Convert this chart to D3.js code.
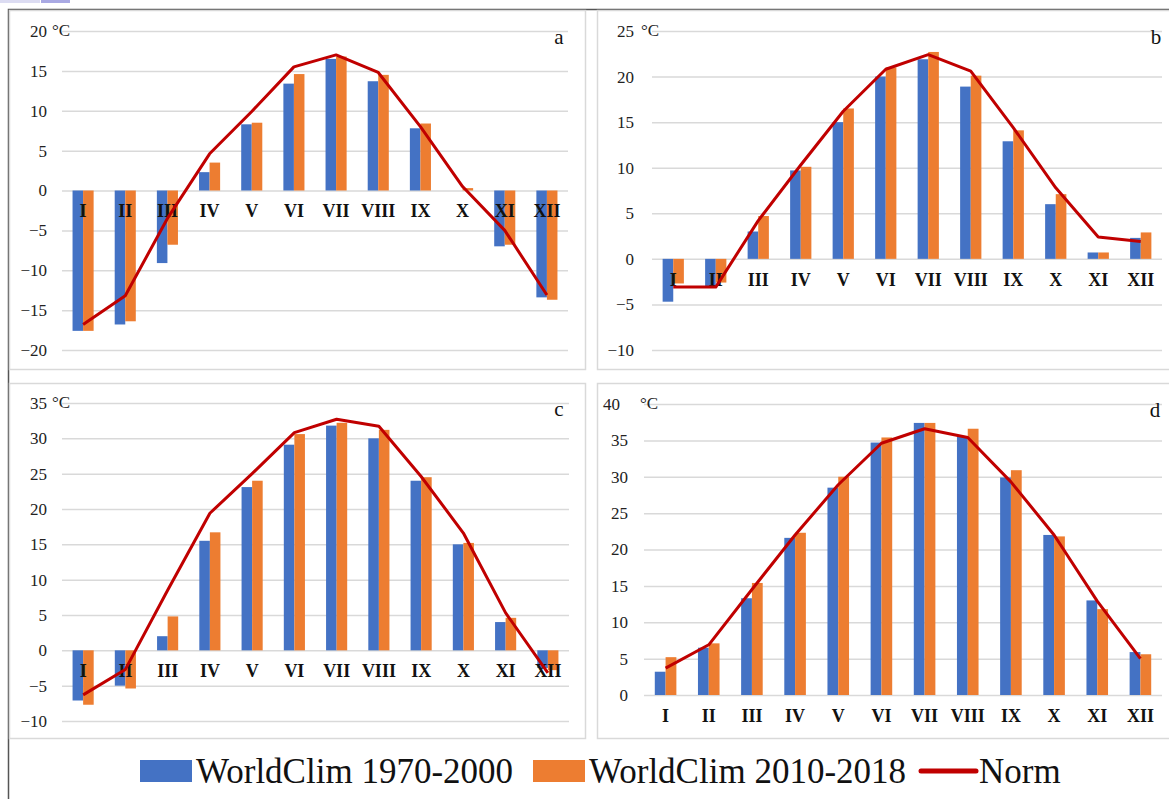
<!DOCTYPE html>
<html>
<head>
<meta charset="utf-8">
<script src="https://cdn.jsdelivr.net/npm/d3@7"></script>
<style>
  body { margin: 0; background: #fff; }
  svg { display: block; }
  text { font-family: "Liberation Serif", "DejaVu Serif", serif; }
</style>
</head>
<body>
<svg id="chart" width="1169" height="799"></svg>
<script>
const months = ['I', 'II', 'III', 'IV', 'V', 'VI', 'VII', 'VIII', 'IX', 'X', 'XI', 'XII'];
const seriesNames = ['WorldClim 1970-2000', 'WorldClim 2010-2018', 'Norm'];

// panel a
const aOld = [-17.6, -16.8, -9.1, 2.3, 8.3, 13.4, 16.5, 13.7, 7.8, 0.0, -7.0, -13.4];
const aNew = [-17.6, -16.4, -6.8, 3.5, 8.5, 14.6, 16.8, 14.5, 8.4, 0.3, -6.8, -13.7];
const aNorm = [-16.8, -13.2, -3.5, 4.6, 9.9, 15.5, 17.0, 14.8, 8.0, 0.5, -5.0, -13.1];
const aTicks = [-20, -15, -10, -5, 0, 5, 10, 15, 20];

// panel b
const bOld = [-4.7, -3.0, 3.0, 9.7, 15.0, 20.0, 21.9, 18.9, 12.9, 6.0, 0.7, 2.3];
const bNew = [-2.7, -2.6, 4.7, 10.1, 16.5, 21.0, 22.7, 20.1, 14.1, 7.1, 0.7, 2.9];
const bNorm = [-3.1, -3.1, 4.2, 10.3, 16.2, 20.8, 22.4, 20.6, 14.4, 7.8, 2.4, 1.9];
const bTicks = [-10, -5, 0, 5, 10, 15, 20, 25];

// panel c
const cOld = [-7.1, -5.0, 2.0, 15.5, 23.1, 29.1, 31.8, 30.0, 24.0, 15.0, 4.0, -2.5];
const cNew = [-7.7, -5.4, 4.8, 16.7, 24.0, 30.6, 32.2, 31.2, 24.5, 15.2, 4.6, -2.8];
const cNorm = [-6.3, -2.7, 8.5, 19.4, 25.0, 30.8, 32.7, 31.7, 24.6, 16.6, 5.3, -3.2];
const cTicks = [-10, -5, 0, 5, 10, 15, 20, 25, 30, 35];

// panel d
const dOld = [3.2, 6.5, 13.3, 21.6, 28.5, 34.7, 37.4, 35.6, 29.9, 22.0, 13.0, 5.9];
const dNew = [5.2, 7.1, 15.4, 22.3, 30.0, 35.4, 37.4, 36.6, 30.9, 21.8, 11.8, 5.6];
const dNorm = [3.7, 6.9, 14.5, 22.0, 28.9, 34.6, 36.6, 35.4, 29.3, 22.0, 12.9, 5.0];
const dTicks = [0, 5, 10, 15, 20, 25, 30, 35, 40];

const COLORS = ['#4472C4', '#ED7D31', '#C00000'];
const GRID = '#d9d9d9';
const SERIF = 'Liberation Serif, DejaVu Serif, serif';

const svg = d3.select('#chart');

// little strip at the very top left of the scan
svg.append('rect').attr('x', 0).attr('y', 0).attr('width', 40).attr('height', 3).attr('fill', '#dcdcf2');
svg.append('rect').attr('x', 41).attr('y', 0).attr('width', 29).attr('height', 3).attr('fill', '#a9a9e3');

// outer frame
svg.append('path')
    .attr('d', 'M8.5,799 V9.5 H1169')
    .attr('fill', 'none')
    .attr('stroke', '#555')
    .attr('stroke-width', 1.5);

const panels = [
    { tag: 'a', old: aOld, nw: aNew, norm: aNorm, ticks: aTicks, topDx: 0,
      frame: [9.5, 10.5, 576, 359], xr: [62, 568], yr: [350, 31], labelX: 47, unitX: 52, tagXY: [559, 44] },
    { tag: 'b', old: bOld, nw: bNew, norm: bNorm, ticks: bTicks, topDx: 0,
      frame: [597.5, 10.5, 580, 359], xr: [652, 1162], yr: [350, 31], labelX: 634, unitX: 641, tagXY: [1156, 44] },
    { tag: 'c', old: cOld, nw: cNew, norm: cNorm, ticks: cTicks, topDx: 0,
      frame: [9.5, 383.5, 576, 355], xr: [62, 569], yr: [721, 403], labelX: 47, unitX: 52, tagXY: [559, 416] },
    { tag: 'd', old: dOld, nw: dNew, norm: dNorm, ticks: dTicks, topDx: -8,
      frame: [597.5, 383.5, 580, 355], xr: [644, 1162], yr: [695, 404], labelX: 628, unitX: 640, tagXY: [1155, 417] }
];

panels.forEach(drawPanel);

function drawPanel(p) {
    const g = svg.append('g');

    g.append('rect')
        .attr('x', p.frame[0]).attr('y', p.frame[1])
        .attr('width', p.frame[2]).attr('height', p.frame[3])
        .attr('fill', '#fff')
        .attr('stroke', GRID)
        .attr('stroke-width', 1.5);

    const x0 = d3.scaleBand().domain(months).range(p.xr);
    const x1 = d3.scaleBand()
        .domain([0, 1])
        .range([x0.bandwidth() * 0.25, x0.bandwidth() * 0.75]);
    const y = d3.scaleLinear()
        .domain([d3.min(p.ticks), d3.max(p.ticks)])
        .range(p.yr);
    const yMax = d3.max(p.ticks);

    // gridlines + y labels
    const yAxis = d3.axisLeft(y)
        .tickValues(p.ticks)
        .tickSize(-(p.xr[1] - p.xr[0]))
        .tickPadding(p.xr[0] - p.labelX)
        .tickFormat((d) => (d < 0 ? '\u2212' + Math.abs(d) : d));
    const yAxisEl = g.append('g')
        .attr('transform', `translate(${p.xr[0]},0)`)
        .call(yAxis)
        .attr('font-family', SERIF)
        .attr('font-size', 17);
    yAxisEl.select('.domain').remove();
    yAxisEl.selectAll('.tick line').attr('stroke', GRID).attr('stroke-width', 1.5);
    yAxisEl.selectAll('.tick text')
        .attr('fill', '#222')
        .attr('dx', (d) => (d === yMax ? p.topDx : 0));

    // unit after the top label
    g.append('text')
        .attr('x', p.unitX)
        .attr('y', y(yMax))
        .attr('dy', '0.32em')
        .attr('fill', '#222')
        .attr('font-family', SERIF)
        .attr('font-size', 17)
        .text('\u00b0C');

    // bars
    const rows = months.map((m, i) => ({ m, vals: [p.old[i], p.nw[i]] }));
    g.selectAll('.grp')
        .data(rows)
        .join('g')
        .attr('transform', (d) => `translate(${x0(d.m)},0)`)
        .selectAll('rect')
        .data((d) => d.vals.map((v, k) => ({ v, k })))
        .join('rect')
        .attr('x', (d) => x1(d.k))
        .attr('width', x1.bandwidth())
        .attr('y', (d) => y(Math.max(0, d.v)))
        .attr('height', (d) => Math.abs(y(d.v) - y(0)))
        .attr('fill', (d) => COLORS[d.k]);

    // month labels on the zero line
    const xAxis = d3.axisBottom(x0).tickSize(0).tickPadding(14);
    const xAxisEl = g.append('g')
        .attr('transform', `translate(0,${y(0)})`)
        .call(xAxis)
        .attr('font-family', SERIF)
        .attr('font-size', 18)
        .attr('font-weight', 'bold');
    xAxisEl.select('.domain').remove();
    xAxisEl.selectAll('.tick text').attr('fill', '#111');

    // norm line
    const line = d3.line()
        .x((d, i) => x0(months[i]) + x0.bandwidth() / 2)
        .y((d) => y(d));
    g.append('path')
        .datum(p.norm)
        .attr('d', line)
        .attr('fill', 'none')
        .attr('stroke', COLORS[2])
        .attr('stroke-width', 3)
        .attr('stroke-linejoin', 'round');

    g.append('text')
        .attr('x', p.tagXY[0])
        .attr('y', p.tagXY[1])
        .attr('text-anchor', 'middle')
        .attr('fill', '#111')
        .attr('font-family', SERIF)
        .attr('font-size', 21)
        .text(p.tag);
}

// legend
const legend = svg.append('g').attr('transform', 'translate(0,771)');
const legendItems = [
    { name: seriesNames[0], sx: 140, sw: 52, tx: 196, type: 'box' },
    { name: seriesNames[1], sx: 533, sw: 52, tx: 589, type: 'box' },
    { name: seriesNames[2], sx: 921, sw: 55, tx: 979, type: 'line' }
];
legendItems.forEach((item, i) => {
    if (item.type === 'box') {
        legend.append('rect')
            .attr('x', item.sx).attr('y', -11)
            .attr('width', item.sw).attr('height', 22)
            .attr('fill', COLORS[i]);
    } else {
        legend.append('line')
            .attr('x1', item.sx).attr('x2', item.sx + item.sw)
            .attr('stroke', COLORS[i])
            .attr('stroke-width', 5)
            .attr('stroke-linecap', 'round');
    }
    legend.append('text')
        .attr('x', item.tx)
        .attr('y', 0)
        .attr('dy', '0.35em')
        .attr('fill', '#111')
        .attr('font-family', SERIF)
        .attr('font-size', 35)
        .text(item.name);
});
</script>
</body>
</html>
